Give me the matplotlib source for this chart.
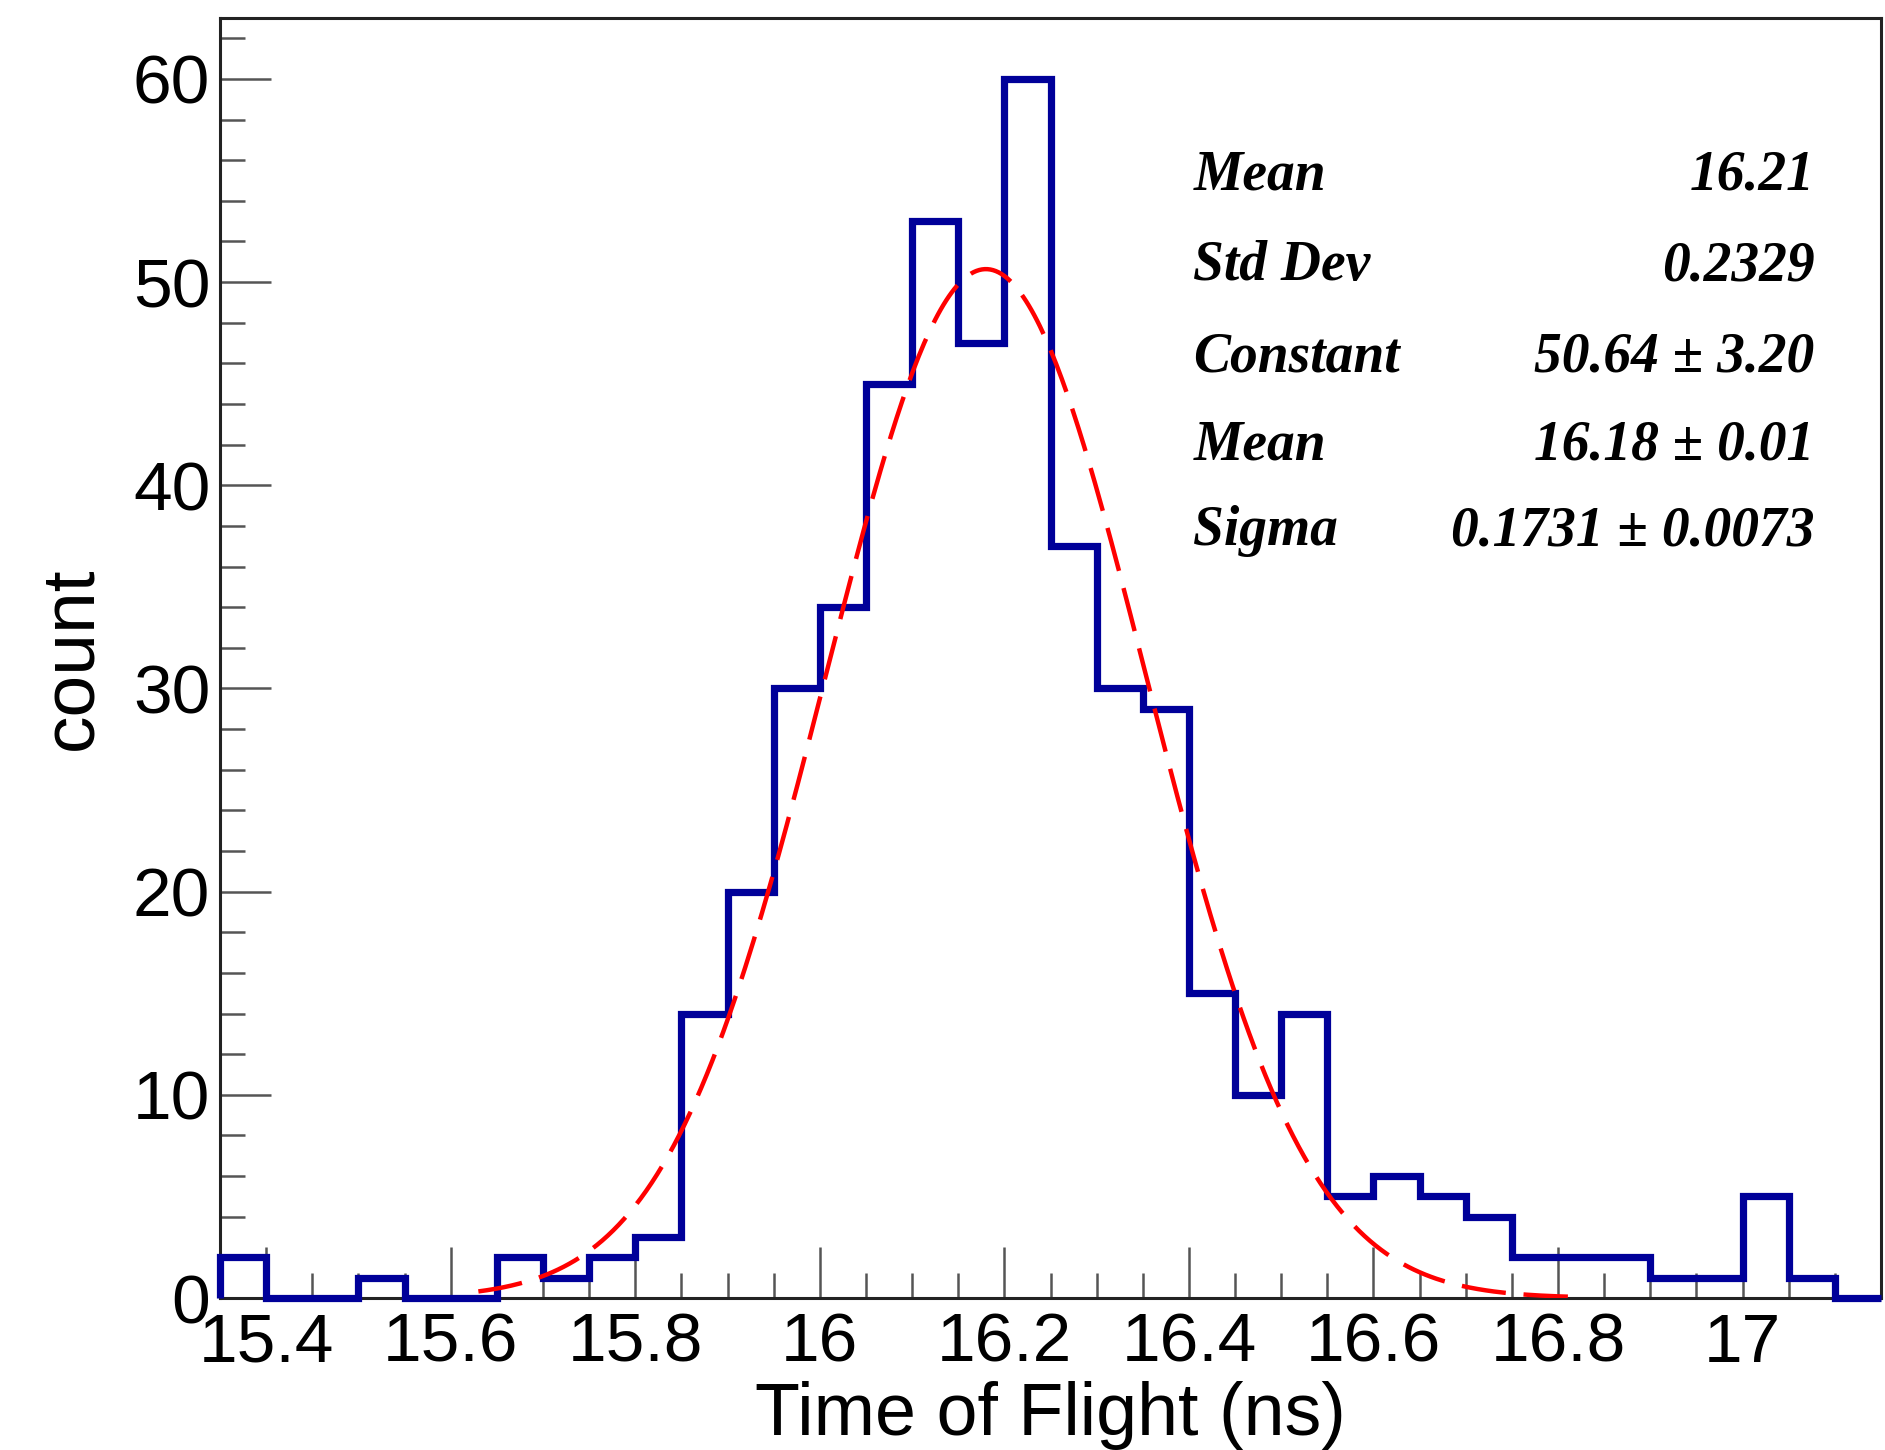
import numpy as np
import matplotlib.pyplot as plt
from matplotlib.ticker import MultipleLocator, FormatStrFormatter

# time-of-flight histogram, 36 bins of 0.05 ns
bin_lo = 15.35
bin_hi = 17.15
counts = [2, 0, 0, 1, 0, 0, 2, 1, 2, 3, 14, 20, 30, 34, 45, 53, 47, 60,
          37, 30, 29, 15, 10, 14, 5, 6, 5, 4, 2, 2, 2, 1, 1, 5, 1, 0]

# gaussian fit result
fit_const = 50.64
fit_mean = 16.18
fit_sigma = 0.1731
fit_range = (15.63, 16.82)

stat_names = ["Mean", "Std Dev", "Constant", "Mean", "Sigma"]
stat_values = ["16.21", "0.2329", "50.64 \u00b1 3.20", "16.18 \u00b1 0.01",
               "0.1731 \u00b1 0.0073"]

edges = np.linspace(bin_lo, bin_hi, len(counts) + 1)
xf = np.linspace(fit_range[0], fit_range[1], 400)
yf = fit_const * np.exp(-0.5 * ((xf - fit_mean) / fit_sigma) ** 2)

plt.rcParams["font.family"] = ["Liberation Sans", "DejaVu Sans"]

fig = plt.figure(figsize=(18.85, 14.5), dpi=100)
ax = fig.add_axes([0.1167, 0.1048, 0.8812, 0.8828])

ax.stairs(counts, edges, color="#000099", lw=5.2, baseline=0, clip_on=False, zorder=3)
ax.plot(xf, yf, color="#ff0000", lw=3.2, dashes=(10, 4), zorder=4)

ax.set_xlim(bin_lo, bin_hi)
ax.set_ylim(0, 63)

ax.xaxis.set_major_locator(MultipleLocator(0.2))
ax.xaxis.set_minor_locator(MultipleLocator(0.05))
ax.xaxis.set_major_formatter(FormatStrFormatter("%g"))
ax.yaxis.set_major_locator(MultipleLocator(10))
ax.yaxis.set_minor_locator(MultipleLocator(2))

ax.tick_params(axis="both", which="both", direction="in", top=False, right=False,
               color="#555555", width=1.8)
ax.tick_params(axis="both", which="major", length=37)
ax.tick_params(axis="both", which="minor", length=18)
ax.tick_params(axis="x", which="major", labelsize=50, pad=10)
ax.tick_params(axis="y", which="major", labelsize=50, pad=7)

for s in ax.spines.values():
    s.set_linewidth(2.2)
    s.set_color("#222222")

ax.set_xlabel("Time of Flight (ns)", fontsize=53, va="center")
ax.xaxis.set_label_coords(0.5, -0.092)
ax.set_ylabel("count", fontsize=54, va="center")
ax.yaxis.set_label_coords(-0.089, 0.5)

# fit statistics panel
rows_y = [0.866, 0.795, 0.724, 0.655, 0.588]
for name, val, yy in zip(stat_names, stat_values, rows_y):
    ax.text(0.586, yy, name, transform=ax.transAxes, ha="left", va="baseline",
            family="Liberation Serif", style="italic", weight="bold", fontsize=40)
    ax.text(0.960, yy, val, transform=ax.transAxes, ha="right", va="baseline",
            family="Liberation Serif", style="italic", weight="bold", fontsize=40)

fig.savefig("out.png", dpi=100)
